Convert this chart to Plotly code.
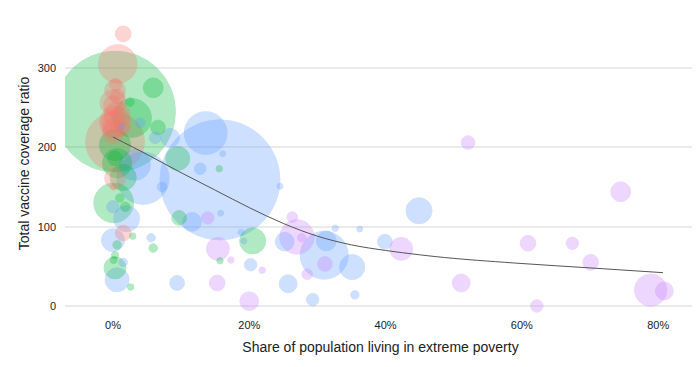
import plotly.graph_objects as go

# ---- data ----
# poverty share (%), vaccine coverage ratio, population (millions)
high_x = [1.5, 0.7, 0.4, 0.3, 0.7, 0.0, 0.6, 0.0, 0.3, 0.0, 0.3, 0.0, 1.3, 0.3, 0.1, 1.5, 0.0, 0.7]
high_y = [343, 305, 279, 272, 264, 256, 241, 232, 232, 224, 207, 218, 224, 161, 150, 92, 253, 241]
high_pop = [24, 145, 15, 42, 21, 66, 66, 51, 95, 42, 335, 42, 24, 42, 4, 24, 34, 21]

upper_x = [0.3, 5.9, 2.5, 6.6, 2.8, 0.3, 0.6, 0.3, 9.5, 15.6, 0.1, 1.0, 1.8, 2.9, 5.9, 0.3, 0.1, 0.3, 2.6, 0.6, 9.7, 15.7, 20.5, 1.5]
upper_y = [245, 275, 257, 225, 237, 203, 180, 186, 186, 173, 130, 136, 125, 88, 73, 64, 58, 48, 24, 77, 111, 57, 82, 162]
upper_pop = [1420, 38, 7, 21, 145, 95, 83, 21, 56, 4, 153, 7, 9, 4, 7, 5, 5, 47, 4, 7, 21, 4, 66, 66]

lower_x = [15.7, 13.6, 4.4, 3.2, 7.2, 2.0, 0.0, 0.0, 0.6, 1.5, 5.6, 9.4, 12.8, 6.2, 8.4, 4.0, 1.3, 16.1, 24.5,
           11.6, 15.8, 18.8, 19.2, 20.2, 25.7, 25.2, 31.3, 31.0, 32.6, 36.2, 35.1, 39.9, 44.9, 35.5, 29.3]
lower_y = [159, 218, 161, 178, 150, 110, 125, 83, 33, 55, 86, 29, 173, 212, 212, 231, 226, 192, 151,
           106, 117, 93, 82, 52, 28, 81, 82, 64, 98, 97, 49, 81, 120, 14, 8]
lower_pop = [1400, 178, 265, 95, 9, 66, 15, 51, 56, 7, 7, 21, 13, 13, 34, 9, 2, 1, 3,
             34, 1, 3, 2, 15, 31, 34, 38, 224, 4, 3, 61, 21, 66, 7, 15]

low_x = [52.1, 74.5, 60.9, 67.4, 70.1, 51.1, 78.9, 80.9, 62.2, 42.3, 27.0, 26.3, 27.7, 31.1, 28.5, 20.0, 15.4, 15.3, 17.3, 21.9, 13.9]
low_y = [206, 144, 79, 79, 55, 29, 20, 19, 0, 72, 87, 112, 86, 53, 40, 6, 72, 29, 58, 45, 111]
low_pop = [18, 38, 24, 15, 24, 31, 102, 31, 15, 51, 115, 11, 7, 21, 11, 34, 51, 24, 4, 4, 15]

# trend line
trend_x = [0, 5, 10, 15, 20, 25, 30, 35, 40, 45, 50, 60, 70, 80.7]
trend_y = [213, 191, 168, 146, 124, 104, 88, 77, 70, 64.5, 60, 53.5, 48, 42]

x_ticks = [0, 20, 40, 60, 80]
x_tick_labels = ["0%", "20%", "40%", "60%", "80%"]
y_ticks = [0, 100, 200, 300]

groups = [
    (high_x, high_y, high_pop, "#F8766D"),
    (upper_x, upper_y, upper_pop, "#00BA38"),
    (lower_x, lower_y, lower_pop, "#619CFF"),
    (low_x, low_y, low_pop, "#C77CFF"),
]

pts = []
for gx, gy, gp, col in groups:
    for a, b, c in zip(gx, gy, gp):
        pts.append((c, a, b, col))
pts.sort(key=lambda t: -t[0])

fig = go.Figure()
fig.add_trace(go.Scatter(
    x=[p[1] for p in pts], y=[p[2] for p in pts], mode="markers",
    marker=dict(size=[p[0] for p in pts], sizemode="area", sizeref=0.1945, sizemin=3,
                color=[p[3] for p in pts], opacity=0.3,
                line=dict(color=[p[3] for p in pts], width=1)),
    hoverinfo="skip", showlegend=False))
fig.add_trace(go.Scatter(x=trend_x, y=trend_y, mode="lines",
                         line=dict(color="#555555", width=1), showlegend=False,
                         line_shape="spline"))

fig.update_layout(
    width=700, height=367,
    margin=dict(l=57, r=12, t=2, b=58),
    plot_bgcolor="white", paper_bgcolor="white",
    font=dict(family="Liberation Sans, Arial, sans-serif", color="#222222"),
    xaxis=dict(range=[-7.04, 85.55], tickvals=x_ticks, ticktext=x_tick_labels, showgrid=False,
               zeroline=False, showline=False, tickfont=dict(size=11),
               title=dict(text="Share of population living in extreme poverty", font=dict(size=14), standoff=12)),
    yaxis=dict(range=[-13.9, 373.1], tickvals=y_ticks, showgrid=True, gridcolor="#ebebeb",
               gridwidth=1.5, zeroline=False, showline=False, tickfont=dict(size=11),
               ticklabelstandoff=8,
               title=dict(text="Total vaccine coverage ratio", font=dict(size=14), standoff=4)),
)
fig.write_html("out.html")
